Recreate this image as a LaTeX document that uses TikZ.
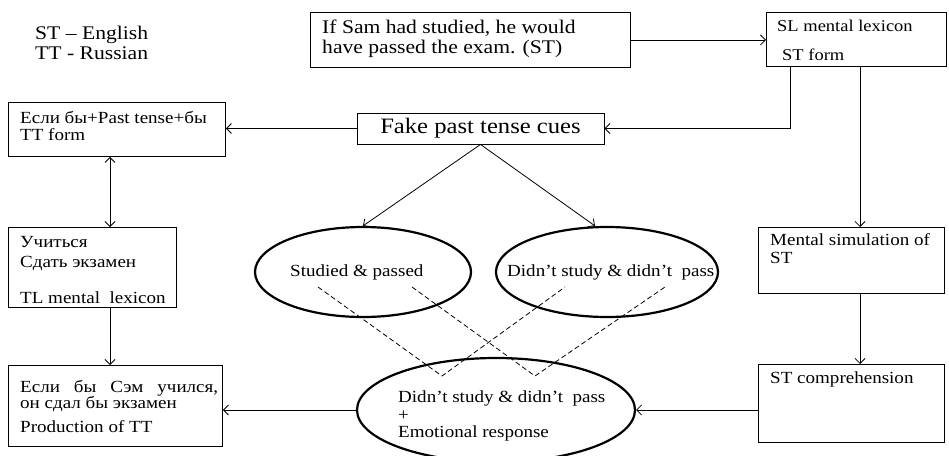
\documentclass[tikz,border=0pt]{standalone}
\usepackage{fontspec}
\setmainfont{Liberation Serif}[FakeStretch=1.12]
\usetikzlibrary{arrows.meta,calc,shapes.geometric}
\begin{document}
\begin{tikzpicture}[x=1pt,y=-1pt,
  box/.style={draw, line width=0.9pt, inner sep=0, anchor=north west},
  oval/.style={draw, ellipse, line width=2.2pt, inner sep=0},
  txt/.style={inner sep=0, anchor=base west, font=\fontsize{17}{20}\selectfont},
  midtxt/.style={inner sep=0, anchor=base west, font=\fontsize{16.5}{20}\selectfont},
  bigtxt/.style={inner sep=0, anchor=base west, font=\fontsize{19.3}{22}\selectfont},
  conn/.style={line width=0.8pt, -{Straight Barb[length=5pt,width=10pt]}},
  dconn/.style={line width=0.8pt, {Straight Barb[length=5pt,width=10pt]}-{Straight Barb[length=5pt,width=10pt]}},
  dsh/.style={line width=0.8pt, dash pattern=on 5pt off 3pt}]
\useasboundingbox (0,0) rectangle (949,455);

% legend
\node[bigtxt] (leg1) at (35,39.3) {ST – English};
\node[bigtxt] (leg2) at (35,59) {TT - Russian};

% top source box
\node[box, minimum width=320pt, minimum height=55pt] (tb) at (310,12) {};
\node[bigtxt] (tb1) at (322,33.5) {If Sam had studied, he would};
\node[bigtxt] (tb2) at (322,53) {have passed the exam. (ST)};

% SL box
\node[box, minimum width=180pt, minimum height=54pt] (sl) at (766,12) {};
\node[midtxt] (sl1) at (777,31) {SL mental lexicon};
\node[midtxt] (sl2) at (782,60) {ST form};

% fake past tense cues
\node[draw, line width=0.9pt, minimum width=247pt, minimum height=31pt, inner sep=0,
      font=\fontsize{22}{24}\selectfont] (fk) at (480.5,128.5) {Fake past tense cues};

% left column
\node[box, minimum width=217pt, minimum height=54pt] (b1) at (8,102) {};
\node[txt] (b1a) at (20,123.5) {Если бы+Past tense+бы};
\node[txt] (b1b) at (20,140) {TT form};

\node[box, minimum width=168pt, minimum height=80pt] (b2) at (8,227) {};
\node[txt] (b2a) at (20,247) {Учиться};
\node[txt] (b2b) at (20,267) {Сдать экзамен};
\node[txt] (b2c) at (20,303) {TL mental~ lexicon};

\node[box, minimum width=214pt, minimum height=81pt] (b3) at (8,365) {};
\node[txt] (b3a) at (20,392) {\makebox[198pt][s]{Если бы Сэм учился,}};
\node[txt] (b3b) at (20,408) {он сдал бы экзамен};
\node[txt] (b3c) at (20,432) {Production of TT};

% right column
\node[box, minimum width=186pt, minimum height=66pt] (ms) at (758,227) {};
\node[txt] (ms1) at (770,245) {Mental simulation of};
\node[txt] (ms2) at (770,263) {ST};

\node[box, minimum width=186pt, minimum height=78pt] (sc) at (758,364) {};
\node[txt] (sc1) at (770,383.5) {ST comprehension};

% ellipses
\node[oval, minimum width=216pt, minimum height=90pt] (e1) at (363,272) {};
\node[txt] (e1t) at (290,276) {Studied \& passed};

\node[oval, minimum width=222pt, minimum height=90pt] (e2) at (607,272) {};
\node[txt] (e2t) at (507,276) {Didn’t study \& didn’t~ pass};

\node[oval, minimum width=278pt, minimum height=104pt] (e3) at (496,410) {};
\node[txt] (e3a) at (398,402) {Didn’t study \& didn’t~ pass};
\node[txt] (e3b) at (398,420) {+};
\node[txt] (e3c) at (398,437) {Emotional response};

% dashed crossing lines
\coordinate (d1) at (318,287);
\coordinate (d2) at (442,376);
\coordinate (d3) at (565,287);
\coordinate (d4) at (412,287);
\coordinate (d5) at (535,376);
\coordinate (d6) at (665,287);
\draw[dsh] (d1) -- (d2) -- (d3);
\draw[dsh] (d4) -- (d5) -- (d6);

% connector anchor points
\coordinate (s1) at ($(sl.south west)+(24,0)$);
\coordinate (s2) at ($(sl.south west)+(94,0)$);
\coordinate (m2) at ($(ms.south west)+(102,0)$);
\coordinate (l1) at ($(b1.south west)+(102,0)$);
\coordinate (l2) at ($(b2.north west)+(102,0)$);
\coordinate (l3) at ($(b2.south west)+(102,0)$);
\coordinate (l4) at ($(b3.north west)+(102,0)$);
\coordinate (e2top) at ($(e2.north)+(-12,0)$);

% connectors
\draw[conn] (tb.east) -- (sl.west |- tb.east);
\draw[conn] (s1) |- (fk.east);
\draw[conn] (s2) -- (s2 |- ms.north);
\draw[conn] (m2) -- (m2 |- sc.north);
\draw[conn] (fk.west) -- (fk.west -| b1.east);
\draw[conn] (fk.south) -- (e1.north);
\draw[conn] (fk.south) -- (e2top);
\draw[dconn] (l1) -- (l2);
\draw[conn] (l3) -- (l4);
\draw[conn] (sc.west |- e3.east) -- (e3.east);
\draw[conn] (e3.west) -- (e3.west -| b3.east);
\end{tikzpicture}
\end{document}
